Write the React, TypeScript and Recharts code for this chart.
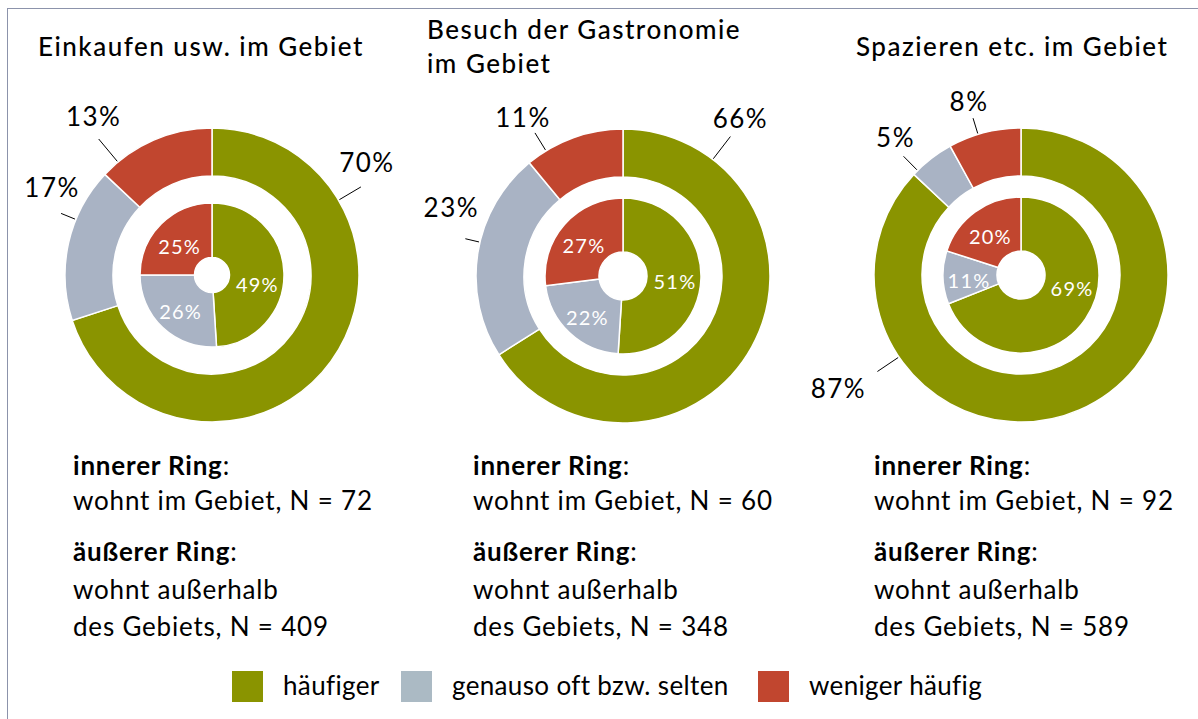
import React from 'react';
import { PieChart, Pie, Cell } from 'recharts';

const CATEGORIES = ['häufiger', 'genauso oft bzw. selten', 'weniger häufig'];
const COLORS = ['#8a9400', '#a9b3c4', '#c1462f'];
const LEGEND_COLORS = ['#8a9400', '#abbac4', '#c1462f'];

const TITLES = [
  ['Einkaufen usw. im Gebiet'],
  ['Besuch der Gastronomie', 'im Gebiet'],
  ['Spazieren etc. im Gebiet'],
];

// inner ring = wohnt im Gebiet, outer ring = wohnt außerhalb
const EINKAUFEN_INNER = [49, 26, 25];
const EINKAUFEN_OUTER = [70, 17, 13];
const GASTRO_INNER = [51, 22, 27];
const GASTRO_OUTER = [66, 23, 11];
const SPAZIEREN_INNER = [69, 11, 20];
const SPAZIEREN_OUTER = [87, 5, 8];

const N_INNER = [72, 60, 92];
const N_OUTER = [409, 348, 589];

const FONT = "Lato, 'Open Sans', sans-serif";
const W = 1198;
const H = 719;

// layout per panel
const PANELS = [
  {
    inner: EINKAUFEN_INNER, outer: EINKAUFEN_OUTER,
    cx: 212, cy: 275, ringIn: [17.5, 72], ringOut: [99, 147],
    titleX: 38, titleY: 56, textX: 73,
    leaderAngle: [30.6, 157.8, 129.8], leaderLen: [26, 16, 30],
    labelOff: [[6, -27], [-9, -28], [-5, -25]],
    innerAngle: [-8, null, null],
  },
  {
    inner: GASTRO_INNER, outer: GASTRO_OUTER,
    cx: 623, cy: 276, ringIn: [24, 78], ringOut: [99, 147],
    titleX: 427, titleY: 39, textX: 473,
    leaderAngle: [52.4, 166.7, 121.6], leaderLen: [29, 15, 21],
    labelOff: [[10, -21], [-14, -34], [-12, -18]],
    innerAngle: [null, null, null],
  },
  {
    inner: SPAZIEREN_INNER, outer: SPAZIEREN_OUTER,
    cx: 1021, cy: 275, ringIn: [24, 78], ringOut: [99, 147],
    titleX: 856, titleY: 56, textX: 874,
    leaderAngle: [213.9, 134.7, 107], leaderLen: [26, 20, 17],
    labelOff: [[-39, 15], [-8, -21], [-4, -19]],
    innerAngle: [-11, null, null],
  },
];

const TEXT_BASELINES = [475, 510, 561, 599, 636];
const LEGEND_X = [232, 401, 758];

const RAD = Math.PI / 180;
function polar(cx: number, cy: number, r: number, angle: number) {
  return { x: cx + r * Math.cos(-angle * RAD), y: cy + r * Math.sin(-angle * RAD) };
}

function toRows(values: number[]) {
  return values.map((v, i) => ({ name: CATEGORIES[i], value: v }));
}

function outerLabel(panel: typeof PANELS[number]) {
  return (props: any) => {
    const { cx, cy, outerRadius, index, value } = props;
    const a = panel.leaderAngle[index];
    const p1 = polar(cx, cy, outerRadius + 1, a);
    const p2 = polar(cx, cy, outerRadius + panel.leaderLen[index], a);
    const [dx, dy] = panel.labelOff[index];
    return (
      <g key={`ol-${index}`}>
        <line x1={p1.x} y1={p1.y} x2={p2.x} y2={p2.y} stroke="#000" strokeWidth={1} />
        <text x={p2.x + dx} y={p2.y + dy + 2} textAnchor="middle" dominantBaseline="central"
          fontFamily={FONT} fontSize={26} letterSpacing={1.5} fill="#000">
          {`${value}%`}
        </text>
      </g>
    );
  };
}

function innerLabel(panel: typeof PANELS[number]) {
  return (props: any) => {
    const { cx, cy, innerRadius, outerRadius, midAngle, index, value } = props;
    const a = panel.innerAngle[index] ?? midAngle;
    const p = polar(cx, cy, (innerRadius + outerRadius) / 2 + 1, a);
    return (
      <text key={`il-${index}`} x={p.x} y={p.y + 3} textAnchor="middle" dominantBaseline="central"
        fontFamily={FONT} fontSize={20} letterSpacing={1.2} fill="#fff">
        {`${value}%`}
      </text>
    );
  };
}

export default function App() {
  return (
    <div style={{ position: 'fixed', left: 0, top: 0, width: W, height: H, background: '#fff', overflow: 'hidden' }}>
      <div style={{ position: 'absolute', left: 7, top: 8, width: W, height: H, borderTop: '1px solid #8c93ab', borderLeft: '1px solid #8c93ab' }} />
      <div style={{ position: 'absolute', left: 0, top: 0 }}>
        <PieChart width={W} height={H} margin={{ top: 0, right: 0, bottom: 0, left: 0 }}>
          {PANELS.map((p, k) => (
            <Pie key={`o${k}`} data={toRows(p.outer)} dataKey="value" cx={p.cx} cy={p.cy}
              innerRadius={p.ringOut[0]} outerRadius={p.ringOut[1]} startAngle={90} endAngle={-270}
              stroke="#fff" strokeWidth={1.5} isAnimationActive={false}
              label={outerLabel(p)} labelLine={false}>
              {p.outer.map((_, i) => <Cell key={i} fill={COLORS[i]} />)}
            </Pie>
          ))}
          {PANELS.map((p, k) => (
            <Pie key={`i${k}`} data={toRows(p.inner)} dataKey="value" cx={p.cx} cy={p.cy}
              innerRadius={p.ringIn[0]} outerRadius={p.ringIn[1]} startAngle={90} endAngle={-270}
              stroke="#fff" strokeWidth={1.5} isAnimationActive={false}
              label={innerLabel(p)} labelLine={false}>
              {p.inner.map((_, i) => <Cell key={i} fill={COLORS[i]} />)}
            </Pie>
          ))}
        </PieChart>
      </div>
      <svg width={W} height={H} style={{ position: 'absolute', left: 0, top: 0, pointerEvents: 'none' }}
        fontFamily={FONT} fill="#000">
        {PANELS.map((p, k) => (
          <g key={k}>
            {TITLES[k].map((t, j) => (
              <text key={j} x={p.titleX} y={p.titleY + j * 34} fontSize={26} fontWeight={500} letterSpacing={1.5}>{t}</text>
            ))}
            <g fontSize={26} letterSpacing={0.8}>
              <text x={p.textX} y={TEXT_BASELINES[0]}>
                <tspan fontWeight={700}>innerer Ring</tspan>:
              </text>
              <text x={p.textX} y={TEXT_BASELINES[1]}>{`wohnt im Gebiet, N = ${N_INNER[k]}`}</text>
              <text x={p.textX} y={TEXT_BASELINES[2]}>
                <tspan fontWeight={700}>äußerer Ring</tspan>:
              </text>
              <text x={p.textX} y={TEXT_BASELINES[3]}>wohnt außerhalb</text>
              <text x={p.textX} y={TEXT_BASELINES[4]}>{`des Gebiets, N = ${N_OUTER[k]}`}</text>
            </g>
          </g>
        ))}
        {CATEGORIES.map((c, i) => (
          <g key={c}>
            <rect x={LEGEND_X[i]} y={671} width={31} height={31} fill={LEGEND_COLORS[i]} />
            <text x={LEGEND_X[i] + 51} y={695} fontSize={26} letterSpacing={0.35}>{c}</text>
          </g>
        ))}
      </svg>
    </div>
  );
}
